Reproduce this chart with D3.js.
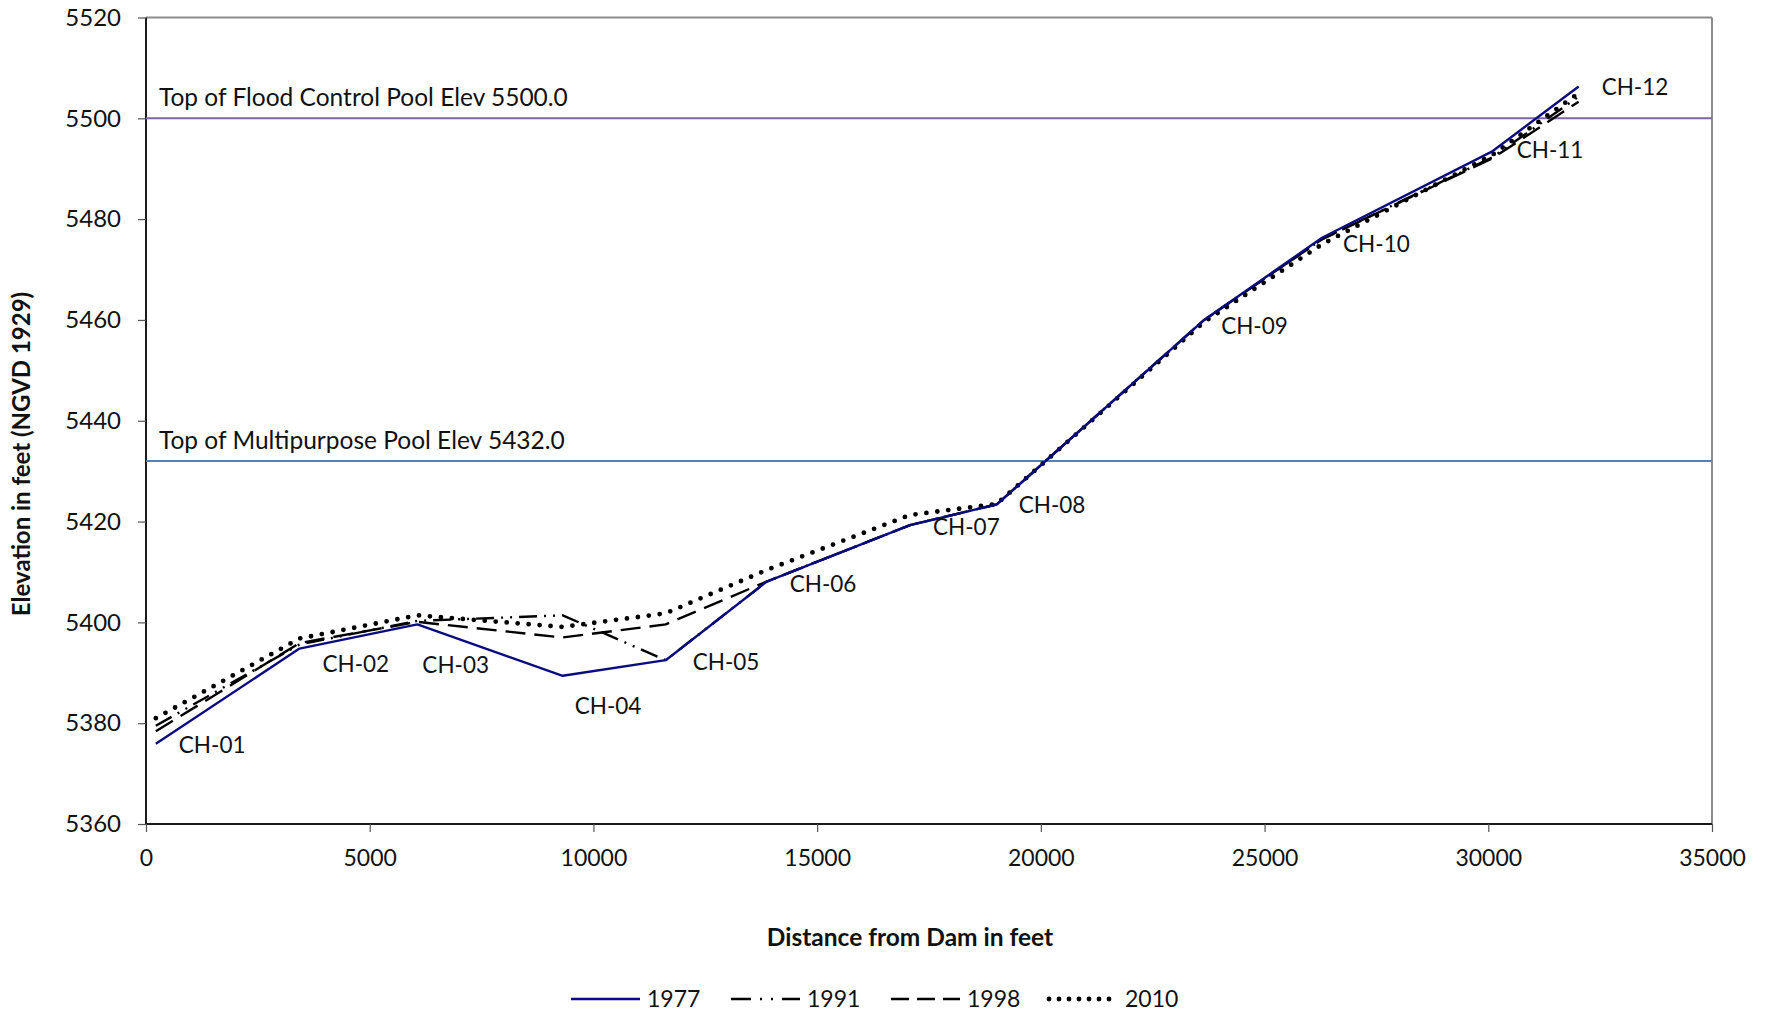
<!DOCTYPE html>
<html>
<head>
<meta charset="utf-8">
<script src="https://cdn.jsdelivr.net/npm/d3@7"></script>
<style>
  html, body { margin: 0; padding: 0; background: #fff; }
  svg { display: block; font-family: Lato, "Open Sans", sans-serif; }
</style>
</head>
<body>
<svg id="chart" width="1768" height="1015"></svg>
<script>
// Channel cross-section stations along the reservoir
const stations = ["CH-01","CH-02","CH-03","CH-04","CH-05","CH-06","CH-07","CH-08","CH-09","CH-10","CH-11","CH-12"];
const distance = [220, 3430, 6065, 9313, 11616, 13873, 17076, 19014, 23650, 26285, 30100, 32020];

// Thalweg elevation (ft, NGVD 1929) by survey year
const elev1977 = [5375.9, 5394.8, 5399.6, 5389.4, 5392.5, 5408.1, 5419.3, 5423.4, 5460.0, 5476.3, 5493.5, 5506.3];
const elev1991 = [5379.5, 5395.6, 5400.3, 5401.4, 5392.5, 5408.1, 5419.3, 5423.4, 5460.0, 5476.0, 5492.3, 5504.3];
const elev1998 = [5378.4, 5395.9, 5400.1, 5397.0, 5399.6, 5408.1, 5419.3, 5423.4, 5460.0, 5476.0, 5492.1, 5503.3];
const elev2010 = [5381.0, 5396.8, 5401.4, 5399.1, 5401.8, 5410.4, 5421.3, 5423.5, 5459.6, 5475.0, 5492.8, 5505.0];

const years = ["1977", "1991", "1998", "2010"];

// Reference pool elevations
const poolNames = ["Top of Flood Control Pool Elev 5500.0", "Top of Multipurpose Pool Elev 5432.0"];
const poolElev = [5500.0, 5432.0];

const xTicks = [0, 5000, 10000, 15000, 20000, 25000, 30000, 35000];
const yTicks = [5360, 5380, 5400, 5420, 5440, 5460, 5480, 5500, 5520];

const svg = d3.select("#chart");
const plot = { left: 146, right: 1712, top: 17.5, bottom: 824 };

const x = d3.scaleLinear().domain([0, 35000]).range([plot.left, plot.right]);
const y = d3.scaleLinear().domain([5360, 5520]).range([plot.bottom, plot.top]);

// Plot frame: grey top/right, black axes
svg.append("line").attr("x1", plot.left).attr("x2", plot.right).attr("y1", plot.top).attr("y2", plot.top)
  .attr("stroke", "#8c8c8c").attr("stroke-width", 2);
svg.append("line").attr("x1", plot.right).attr("x2", plot.right).attr("y1", plot.top).attr("y2", plot.bottom)
  .attr("stroke", "#8c8c8c").attr("stroke-width", 2);

// Axes
const yAxis = svg.append("g").attr("transform", `translate(${plot.left},0)`)
  .call(d3.axisLeft(y).tickValues(yTicks).tickSize(8).tickPadding(17).tickFormat(d3.format("d")));
const xAxis = svg.append("g").attr("transform", `translate(0,${plot.bottom})`)
  .call(d3.axisBottom(x).tickValues(xTicks).tickSize(8).tickPadding(18).tickFormat(d3.format("d")));
[yAxis, xAxis].forEach(g => {
  g.select(".domain").attr("stroke", "#1a1a1a").attr("stroke-width", 2);
  g.selectAll(".tick line").attr("stroke", "#555").attr("stroke-width", 1.2);
  g.selectAll(".tick text").attr("fill", "#111").style("font-family", "Lato, 'Open Sans', sans-serif");
});
yAxis.selectAll(".tick text").style("font-size", "24px");
xAxis.selectAll(".tick text").style("font-size", "23px");
yAxis.select(".domain").attr("d", `M0,${plot.top}V${plot.bottom}`);
xAxis.select(".domain").attr("d", `M${plot.left},0H${plot.right}`);

// Pool reference lines
const poolColors = ["#8064A2", "#4F81BD"];
poolElev.forEach((e, i) => {
  svg.append("line").attr("x1", plot.left).attr("x2", plot.right)
    .attr("y1", y(e)).attr("y2", y(e))
    .attr("stroke", poolColors[i]).attr("stroke-width", 2);
  svg.append("text").attr("x", plot.left + 13).attr("y", y(e) - 12)
    .attr("fill", "#111").style("font-size", "24.5px").text(poolNames[i]);
});

// Survey profiles
const seriesValues = [elev1977, elev1991, elev1998, elev2010];
const styles = [
  { color: "#0b0b80", width: 2.4, dash: null, cap: "butt" },
  { color: "#000", width: 2.4, dash: "18,7,2,7,2,7", cap: "butt" },
  { color: "#000", width: 2.4, dash: "20,9", cap: "butt" },
  { color: "#000", width: 4.8, dash: "0,11", cap: "round" }
];
const line = d3.line().x(d => x(d[0])).y(d => y(d[1]));

// draw the later surveys first so the 1977 line stays visible where they overlap
[3, 2, 1, 0].forEach(i => {
  const pts = distance.map((dx, j) => [dx, seriesValues[i][j]]);
  svg.append("path").datum(pts).attr("d", line)
    .attr("fill", "none").attr("stroke", styles[i].color)
    .attr("stroke-width", styles[i].width)
    .attr("stroke-dasharray", styles[i].dash)
    .attr("stroke-linecap", styles[i].cap)
    .attr("stroke-linejoin", "round");
});

// Station labels, offset from the 1977 profile point
const labelOffsets = [[23,9],[23,23],[5,49],[12,38],[27,10],[23,10],[23,10],[22,9],[17,14],[21,14],[24,7],[23,8]];
stations.forEach((s, j) => {
  svg.append("text")
    .attr("x", x(distance[j]) + labelOffsets[j][0])
    .attr("y", y(elev1977[j]) + labelOffsets[j][1])
    .attr("fill", "#111").style("font-size", "22.5px").text(s);
});

// Axis titles
svg.append("text").attr("transform", "translate(30,454) rotate(-90)")
  .attr("text-anchor", "middle").style("font-size", "24px").style("font-weight", "bold")
  .attr("fill", "#111").text("Elevation in feet (NGVD 1929)");
svg.append("text").attr("x", 910).attr("y", 946)
  .attr("text-anchor", "middle").style("font-size", "24.5px").style("font-weight", "bold")
  .attr("fill", "#111").text("Distance from Dam in feet");

// Legend
const legendX = [571, 731, 891, 1049];
const legendY = 999;
years.forEach((yr, i) => {
  const g = svg.append("g");
  g.append("line").attr("x1", legendX[i]).attr("x2", legendX[i] + 69)
    .attr("y1", legendY).attr("y2", legendY)
    .attr("stroke", styles[i].color).attr("stroke-width", i === 3 ? 4.8 : 2.4)
    .attr("stroke-dasharray", i === 3 ? "0,10" : i === 1 ? "20,9,2,9,2,9" : i === 2 ? "18,8" : null)
    .attr("stroke-linecap", styles[i].cap);
  g.append("text").attr("x", legendX[i] + 76).attr("y", legendY + 8)
    .attr("fill", "#111").style("font-size", "23px").text(yr);
});
</script>
</body>
</html>
